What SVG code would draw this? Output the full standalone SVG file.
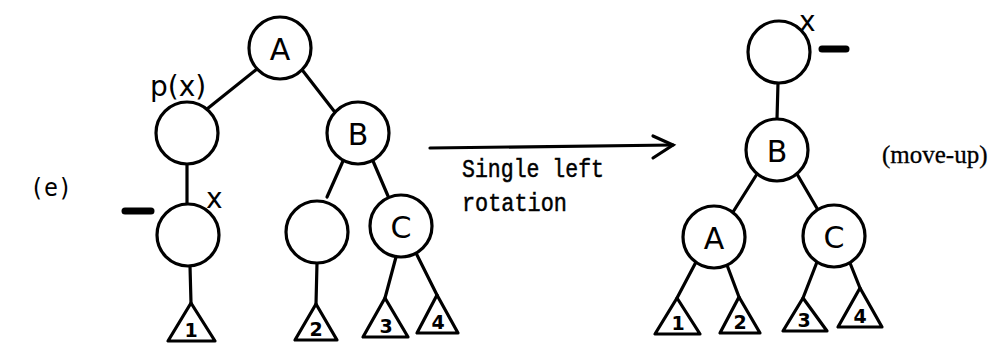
<svg xmlns="http://www.w3.org/2000/svg" width="993" height="343" viewBox="0 0 993 343">
<style>
.n{fill:#fff;stroke:#000;stroke-width:3.2}
.t{fill:#fff;stroke:#000;stroke-width:3.2;stroke-linejoin:round}
.e{stroke:#000;stroke-width:3.2;fill:none;stroke-linecap:round}
.lab{font-family:"DejaVu Sans",sans-serif;font-size:30px;fill:#000;text-anchor:middle}
.hand{font-family:"DejaVu Sans",sans-serif;fill:#000}
.tl{font-family:"DejaVu Sans",sans-serif;font-size:19px;font-weight:bold;fill:#000;text-anchor:middle}
.mono{font-family:"Liberation Mono","Courier New",monospace;fill:#000;stroke:#000;stroke-width:0.5}
.dash{stroke:#000;stroke-width:7;stroke-linecap:round}
</style>
<rect width="993" height="343" fill="#fff"/>
<text x="30" y="196" font-family="'DejaVu Sans Mono',monospace" font-size="25" textLength="42" lengthAdjust="spacingAndGlyphs" fill="#000">(e)</text>

<g id="connectors">
<line class="e" x1="257" y1="69" x2="207" y2="109"/>
<line class="e" x1="303" y1="71" x2="334" y2="111"/>
<line class="e" x1="187" y1="164" x2="187" y2="204"/>
<line class="e" x1="343" y1="161" x2="327" y2="197"/>
<line class="e" x1="373" y1="161" x2="388" y2="196"/>
<line class="e" x1="190" y1="266" x2="191" y2="303"/>
<line class="e" x1="317" y1="263" x2="316" y2="304"/>
<line class="e" x1="396" y1="257" x2="385" y2="298"/>
<line class="e" x1="416" y1="253" x2="437" y2="295"/>
<line class="e" x1="430" y1="148" x2="673" y2="145"/>
<polyline class="e" points="653,136 673,145 653,158"/>
<line class="e" x1="778" y1="83" x2="777" y2="119"/>
<line class="e" x1="757" y1="174" x2="733" y2="212"/>
<line class="e" x1="797" y1="174" x2="818" y2="210"/>
<line class="e" x1="696" y1="262" x2="677" y2="298"/>
<line class="e" x1="727" y1="265" x2="739" y2="297"/>
<line class="e" x1="817" y1="262" x2="803" y2="298"/>
<line class="e" x1="850" y1="263" x2="860" y2="288"/>
</g>

<g id="left-A"><circle class="n" cx="280" cy="48" r="31"/><text class="lab" x="280" y="60">A</text></g>
<g id="left-px"><circle class="n" cx="187" cy="133" r="31"/><text class="hand" x="150" y="96" font-size="28">p(x)</text></g>
<g id="left-B"><circle class="n" cx="358" cy="133" r="31"/><text class="lab" x="358" y="145">B</text></g>
<g id="left-x"><circle class="n" cx="188" cy="235" r="31"/><text class="hand" x="206" y="208" font-size="28">x</text><line class="dash" x1="125" y1="211" x2="151" y2="211"/></g>
<g id="left-empty"><circle class="n" cx="317" cy="232" r="31"/></g>
<g id="left-C"><circle class="n" cx="401" cy="226" r="31"/><text class="lab" x="401" y="238">C</text></g>
<g id="left-t1"><polygon class="t" points="191,303 168,341 215,341"/><text class="tl" x="191" y="337">1</text></g>
<g id="left-t2"><polygon class="t" points="316,304 295,340 337,340"/><text class="tl" x="316" y="336">2</text></g>
<g id="left-t3"><polygon class="t" points="385,298 363,337 408,337"/><text class="tl" x="386" y="333">3</text></g>
<g id="left-t4"><polygon class="t" points="437,295 417,333 458,333"/><text class="tl" x="438" y="329">4</text></g>

<g id="label-rotation">
<text class="mono" x="462" y="177" font-size="26" textLength="142" lengthAdjust="spacingAndGlyphs">Single left</text>
<text class="mono" x="462" y="211" font-size="26" textLength="105" lengthAdjust="spacingAndGlyphs">rotation</text>
</g>

<g id="right-x"><circle class="n" cx="779" cy="52" r="31"/><text class="hand" x="799" y="31" font-size="28">x</text><line class="dash" x1="822" y1="49" x2="846" y2="49"/></g>
<g id="right-B"><circle class="n" cx="777" cy="150" r="31"/><text class="lab" x="777" y="162">B</text></g>
<g id="right-A"><circle class="n" cx="714" cy="237" r="31"/><text class="lab" x="714" y="249">A</text></g>
<g id="right-C"><circle class="n" cx="834" cy="236" r="31"/><text class="lab" x="834" y="248">C</text></g>
<g id="right-t1"><polygon class="t" points="677,298 655,334 700,334"/><text class="tl" x="678" y="330">1</text></g>
<g id="right-t2"><polygon class="t" points="739,297 720,333 760,333"/><text class="tl" x="740" y="329">2</text></g>
<g id="right-t3"><polygon class="t" points="803,298 783,331 827,331"/><text class="tl" x="804" y="327">3</text></g>
<g id="right-t4"><polygon class="t" points="860,288 838,327 882,327"/><text class="tl" x="860" y="323">4</text></g>

<text x="882" y="163" font-family="'Liberation Serif','Times New Roman',serif" font-size="25" fill="#000" stroke="#000" stroke-width="0.3">(move-up)</text>
</svg>
